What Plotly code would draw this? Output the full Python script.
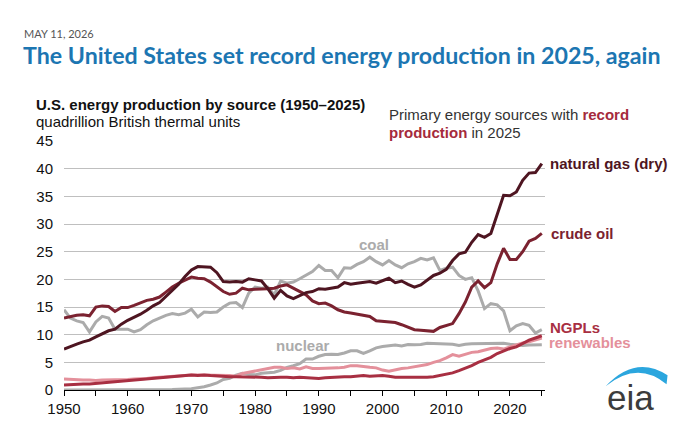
import plotly.graph_objects as go

years = list(range(1950, 2026))

natural_gas = [
    7.4, 7.9, 8.3, 8.7, 9.0, 9.6, 10.2, 10.7, 11.0, 11.9,
    12.6, 13.1, 13.7, 14.4, 15.2, 15.8, 16.9, 17.9, 19.1, 20.5,
    21.7, 22.3, 22.2, 22.2, 21.2, 19.6, 19.5, 19.6, 19.5, 20.1,
    19.9, 19.7, 18.3, 16.6, 18.0, 17.0, 16.5, 17.1, 17.6, 17.8,
    18.3, 18.2, 18.4, 18.6, 19.4, 19.1, 19.3, 19.4, 19.6, 19.3,
    19.7, 20.2, 19.4, 19.7, 19.1, 18.6, 19.0, 19.8, 20.7, 21.1,
    21.8, 23.4, 24.6, 24.9, 26.7, 28.1, 27.6, 28.3, 31.9, 35.2,
    35.1, 35.8, 37.9, 39.2, 39.3, 40.9,
]
crude_oil = [
    13.0, 13.3, 13.5, 13.6, 13.4, 15.0, 15.2, 15.1, 14.2, 14.9,
    14.9, 15.3, 15.7, 16.2, 16.4, 16.8, 17.7, 18.6, 19.3, 19.8,
    20.4, 20.2, 20.1, 19.5, 18.6, 17.8, 17.3, 17.5, 18.4, 18.1,
    18.2, 18.2, 18.3, 18.4, 18.8, 19.0, 18.4, 17.7, 17.2, 16.1,
    15.6, 15.7, 15.2, 14.5, 14.1, 13.9, 13.7, 13.6, 13.3, 12.5,
    12.4, 12.3, 12.2, 11.8, 11.3, 10.9, 10.8, 10.7, 10.6, 11.3,
    11.6, 12.0, 13.8, 15.9, 18.6, 19.7, 18.5, 19.4, 22.8, 25.6,
    23.6, 23.6, 25.0, 26.9, 27.4, 28.3,
]
coal = [
    14.5, 13.0, 12.5, 12.2, 10.5, 12.3, 13.3, 13.0, 11.0, 11.0,
    11.0, 10.5, 10.9, 11.8, 12.5, 13.0, 13.5, 13.8, 13.6, 13.9,
    14.6, 13.2, 14.1, 14.0, 14.1, 15.0, 15.7, 15.8, 14.9, 17.5,
    18.6, 18.4, 18.6, 17.2, 19.7, 19.3, 19.5, 20.1, 20.7, 21.4,
    22.5, 21.6, 21.6, 20.3, 22.1, 22.0, 22.7, 23.2, 24.0, 23.2,
    22.6, 23.4, 22.6, 22.1, 22.8, 23.2, 23.8, 23.5, 23.9, 21.6,
    22.0, 22.2, 20.7, 20.0, 20.3, 17.9, 14.7, 15.6, 15.4, 14.3,
    10.7, 11.6, 12.0, 11.7, 10.3, 10.9,
]
nuclear = [
    0.0, 0.0, 0.0, 0.0, 0.0, 0.0, 0.0, 0.0, 0.0, 0.0,
    0.01, 0.02, 0.03, 0.04, 0.04, 0.04, 0.06, 0.09, 0.14, 0.15,
    0.24, 0.41, 0.58, 0.91, 1.27, 1.90, 2.11, 2.70, 3.02, 2.78,
    2.74, 3.01, 3.13, 3.20, 3.55, 4.08, 4.38, 4.75, 5.59, 5.60,
    6.10, 6.42, 6.48, 6.41, 6.69, 7.08, 7.09, 6.60, 7.07, 7.61,
    7.86, 8.03, 8.14, 7.96, 8.22, 8.16, 8.21, 8.46, 8.43, 8.36,
    8.43, 8.27, 8.06, 8.27, 8.34, 8.34, 8.43, 8.42, 8.44, 8.45,
    8.25, 8.13, 8.06, 8.11, 8.16, 8.20,
]
renewables = [
    2.0, 1.9, 1.9, 1.8, 1.8, 1.7, 1.8, 1.8, 1.9, 1.9,
    1.9, 2.0, 2.0, 2.1, 2.2, 2.3, 2.4, 2.5, 2.6, 2.6,
    2.7, 2.7, 2.7, 2.6, 2.6, 2.6, 2.6, 2.5, 3.0, 3.2,
    3.4, 3.6, 3.9, 4.1, 4.1, 3.9, 4.0, 3.8, 4.2, 3.9,
    3.9, 3.9, 3.9, 4.0, 4.1, 4.4, 4.4, 4.2, 4.1, 4.0,
    3.6, 3.4, 3.7, 3.9, 4.0, 4.2, 4.4, 4.6, 5.0, 5.3,
    5.8, 6.4, 6.1, 6.4, 6.8, 6.9, 7.2, 7.5, 7.6, 7.4,
    7.8, 8.2, 8.5, 8.7, 9.0, 9.4,
]
ngpls = [
    0.9, 1.0, 1.0, 1.1, 1.1, 1.2, 1.3, 1.4, 1.5, 1.6,
    1.7, 1.8, 1.9, 2.0, 2.1, 2.2, 2.4, 2.5, 2.6, 2.6,
    2.7, 2.6, 2.7, 2.6, 2.5, 2.4, 2.4, 2.4, 2.4, 2.3,
    2.3, 2.3, 2.2, 2.3, 2.3, 2.3, 2.2, 2.3, 2.2, 2.1,
    2.1, 2.2, 2.3, 2.3, 2.4, 2.4, 2.5, 2.6, 2.5, 2.6,
    2.6, 2.5, 2.3, 2.3, 2.3, 2.2, 2.2, 2.3, 2.4, 2.6,
    2.8, 3.1, 3.5, 3.9, 4.4, 5.0, 5.4, 5.9, 6.6, 7.1,
    7.5, 7.8, 8.4, 9.0, 9.4, 9.8,
]

x_ticks = list(range(1950, 2026, 5))
x_labels = [str(y) if y % 10 == 0 and y < 2025 else "" for y in x_ticks]
y_ticks = list(range(0, 46, 5))

GRAY = "#ABABAB"
GAS = "#4E1521"
OIL = "#7B2230"
NGPL = "#A82F42"
RENEW = "#E4909B"

# plot area in pixels (680x422 canvas)
L, R, T, B = 55.7, 537.3, 132.7, 381.7


def px(x):
    return (x - L) / (R - L)


def py(y):
    return (B - y) / (B - T)


series = [
    (coal, GRAY),
    (nuclear, GRAY),
    (renewables, RENEW),
    (ngpls, NGPL),
    (crude_oil, OIL),
    (natural_gas, GAS),
]

fig = go.Figure()
for vals, color in series:
    fig.add_trace(go.Scatter(
        x=years, y=vals, mode="lines",
        line=dict(color=color, width=3),
        hoverinfo="skip",
    ))

ARIAL = "Liberation Sans, Arial, sans-serif"

annotations = [
    dict(text="MAY 11, 2026", x=px(14), y=py(25), xanchor="left", yanchor="middle",
         font=dict(family="Lato", size=11, color="#555555")),
    dict(text="<b>The United States set record energy production in 2025, again</b>",
         x=px(13), y=py(46.5), xanchor="left", yanchor="middle",
         font=dict(family="Lato", size=23.2, color="#1C76B2")),
    dict(text="<b>U.S. energy production by source (1950\u20132025)</b>",
         x=px(26), y=py(96), xanchor="left", yanchor="middle",
         font=dict(family=ARIAL, size=15, color="#111111")),
    dict(text="quadrillion British thermal units",
         x=px(26), y=py(113), xanchor="left", yanchor="middle",
         font=dict(family=ARIAL, size=15, color="#111111")),
    dict(text="Primary energy sources with <b><span style='color:#A52A3C'>record</span></b>",
         x=px(379), y=py(106), xanchor="left", yanchor="middle",
         font=dict(family=ARIAL, size=15, color="#333333")),
    dict(text="<b><span style='color:#A52A3C'>production</span></b> in 2025",
         x=px(379), y=py(124), xanchor="left", yanchor="middle",
         font=dict(family=ARIAL, size=15, color="#333333")),
    dict(text="<b>natural gas (dry)</b>", x=px(540), y=py(155), xanchor="left", yanchor="middle",
         font=dict(family=ARIAL, size=15, color=GAS)),
    dict(text="<b>crude oil</b>", x=px(541), y=py(225), xanchor="left", yanchor="middle",
         font=dict(family=ARIAL, size=15, color=OIL)),
    dict(text="<b>NGPLs</b>", x=px(540), y=py(319.5), xanchor="left", yanchor="middle",
         font=dict(family=ARIAL, size=15, color=NGPL)),
    dict(text="<b>renewables</b>", x=px(539), y=py(334.5), xanchor="left", yanchor="middle",
         font=dict(family=ARIAL, size=15, color=RENEW)),
    dict(text="<b>coal</b>", x=px(366), y=py(236), xanchor="center", yanchor="middle",
         font=dict(family=ARIAL, size=15, color=GRAY)),
    dict(text="<b>nuclear</b>", x=px(295), y=py(337), xanchor="center", yanchor="middle",
         font=dict(family=ARIAL, size=15, color=GRAY)),
    dict(text="eia", x=px(623), y=py(389), xanchor="center", yanchor="middle",
         font=dict(family=ARIAL, size=35, color="#3C3C3C")),
]
for a in annotations:
    a.update(xref="paper", yref="paper", showarrow=False)

# eia swoosh
pts = [("M", 598, 378), ("Q", 628, 346, 660, 367), ("L", 659, 376), ("Q", 630, 352, 598, 378)]
path = ""
for p in pts:
    cmd, coords = p[0], p[1:]
    xy = [f"{px(coords[i]):.4f},{py(coords[i + 1]):.4f}" for i in range(0, len(coords), 2)]
    path += cmd + " " + " ".join(xy) + " "
path += "Z"

fig.update_layout(
    width=680, height=422,
    margin=dict(l=L, r=680 - R, t=T, b=422 - B),
    paper_bgcolor="white", plot_bgcolor="white",
    showlegend=False,
    annotations=annotations,
    shapes=[dict(type="path", path=path, xref="paper", yref="paper",
                 fillcolor="#2BA6DE", line=dict(width=0))],
    xaxis=dict(
        range=[1950, 2025.5], tickvals=x_ticks, ticktext=x_labels,
        showgrid=False, zeroline=False,
        showline=True, linecolor="black", linewidth=1.3,
        ticks="outside", ticklen=5, tickwidth=1.2, tickcolor="black",
        tickfont=dict(family=ARIAL, size=15, color="#111111"),
    ),
    yaxis=dict(
        range=[0, 45], tickvals=y_ticks,
        showgrid=True, gridcolor="#BFBFBF", gridwidth=1.2,
        zeroline=False, showline=False, ticks="",
        ticklabelstandoff=10,
        tickfont=dict(family=ARIAL, size=15, color="#111111"),
    ),
)

fig.write_html("out.html")
